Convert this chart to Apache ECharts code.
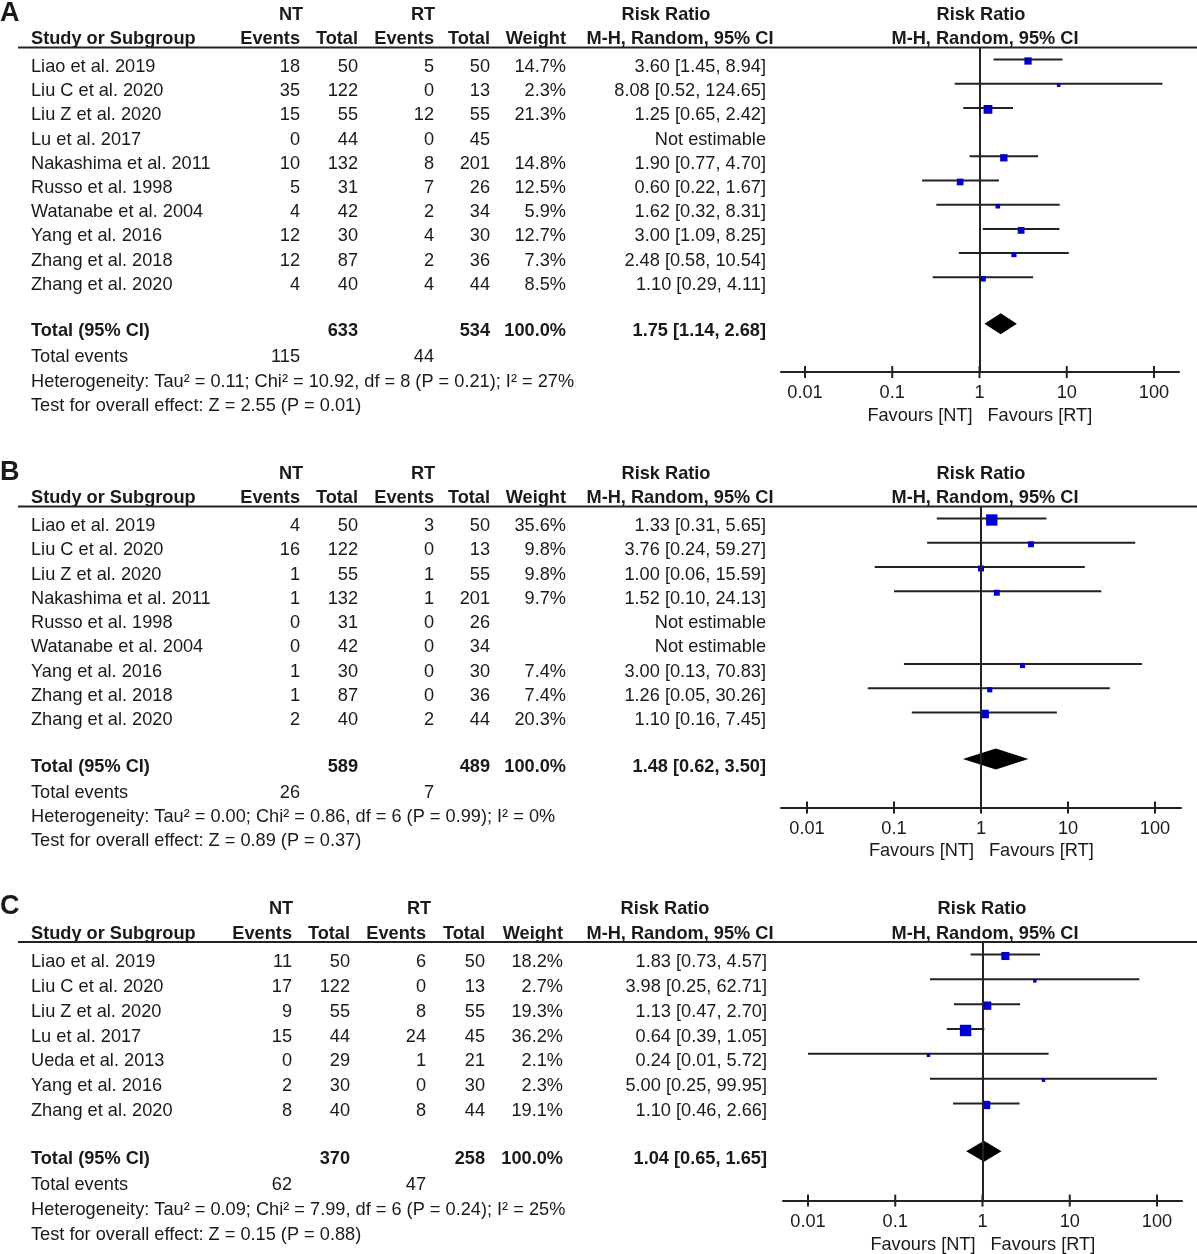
<!DOCTYPE html>
<html><head><meta charset="utf-8">
<script src="https://cdn.jsdelivr.net/npm/echarts@6/dist/echarts.min.js"></script>
<style>html,body{margin:0;padding:0;background:#fff}#c{width:1197px;height:1254px}</style>
</head><body><div id="c"></div>
<script>
// ================= DATA =================
// Panel A
const studiesA = ['Liao et al. 2019','Liu C et al. 2020','Liu Z et al. 2020','Lu et al. 2017','Nakashima et al. 2011','Russo et al. 1998','Watanabe et al. 2004','Yang et al. 2016','Zhang et al. 2018','Zhang et al. 2020'];
const ntEventsA = [18,35,15,0,10,5,4,12,12,4];
const ntTotalA  = [50,122,55,44,132,31,42,30,87,40];
const rtEventsA = [5,0,12,0,8,7,2,4,2,4];
const rtTotalA  = [50,13,55,45,201,26,34,30,36,44];
const weightA   = [14.7,2.3,21.3,null,14.8,12.5,5.9,12.7,7.3,8.5];
const rrA       = [3.60,8.08,1.25,null,1.90,0.60,1.62,3.00,2.48,1.10];
const lowA      = [1.45,0.52,0.65,null,0.77,0.22,0.32,1.09,0.58,0.29];
const highA     = [8.94,124.65,2.42,null,4.70,1.67,8.31,8.25,10.54,4.11];
const totalsA = [633,534];
const totalEventsA = [115,44];
const pooledA = [1.75,1.14,2.68];
const heterogeneityA = 'Heterogeneity: Tau² = 0.11; Chi² = 10.92, df = 8 (P = 0.21); I² = 27%';
const overallA = 'Test for overall effect: Z = 2.55 (P = 0.01)';

// Panel B
const studiesB = ['Liao et al. 2019','Liu C et al. 2020','Liu Z et al. 2020','Nakashima et al. 2011','Russo et al. 1998','Watanabe et al. 2004','Yang et al. 2016','Zhang et al. 2018','Zhang et al. 2020'];
const ntEventsB = [4,16,1,1,0,0,1,1,2];
const ntTotalB  = [50,122,55,132,31,42,30,87,40];
const rtEventsB = [3,0,1,1,0,0,0,0,2];
const rtTotalB  = [50,13,55,201,26,34,30,36,44];
const weightB   = [35.6,9.8,9.8,9.7,null,null,7.4,7.4,20.3];
const rrB       = [1.33,3.76,1.00,1.52,null,null,3.00,1.26,1.10];
const lowB      = [0.31,0.24,0.06,0.10,null,null,0.13,0.05,0.16];
const highB     = [5.65,59.27,15.59,24.13,null,null,70.83,30.26,7.45];
const totalsB = [589,489];
const totalEventsB = [26,7];
const pooledB = [1.48,0.62,3.50];
const heterogeneityB = 'Heterogeneity: Tau² = 0.00; Chi² = 0.86, df = 6 (P = 0.99); I² = 0%';
const overallB = 'Test for overall effect: Z = 0.89 (P = 0.37)';

// Panel C
const studiesC = ['Liao et al. 2019','Liu C et al. 2020','Liu Z et al. 2020','Lu et al. 2017','Ueda et al. 2013','Yang et al. 2016','Zhang et al. 2020'];
const ntEventsC = [11,17,9,15,0,2,8];
const ntTotalC  = [50,122,55,44,29,30,40];
const rtEventsC = [6,0,8,24,1,0,8];
const rtTotalC  = [50,13,55,45,21,30,44];
const weightC   = [18.2,2.7,19.3,36.2,2.1,2.3,19.1];
const rrC       = [1.83,3.98,1.13,0.64,0.24,5.00,1.10];
const lowC      = [0.73,0.25,0.47,0.39,0.01,0.25,0.46];
const highC     = [4.57,62.71,2.70,1.05,5.72,99.95,2.66];
const totalsC = [370,258];
const totalEventsC = [62,47];
const pooledC = [1.04,0.65,1.65];
const heterogeneityC = 'Heterogeneity: Tau² = 0.09; Chi² = 7.99, df = 6 (P = 0.24); I² = 25%';
const overallC = 'Test for overall effect: Z = 0.15 (P = 0.88)';

const panelLabels = ['A','B','C'];
const groupNames = ['NT','RT'];
const tickValues = [0.01, 0.1, 1, 10, 100];
const tickLabels = ['0.01','0.1','1','10','100'];
const favourLabels = ['Favours [NT]','Favours [RT]'];

// ================= LAYOUT / STYLE =================
const FONT = '"Liberation Sans", Arial, Helvetica, sans-serif';
const FS = 18.2;
const TXT = '#1a1a1a';
const LINE = '#222222';
const SQUARE = '#0000cc';
const TEXT_DY = 2;

const colsAB = {study:31, ntE:300, ntT:358, rtE:434, rtT:490, w:566, ci:766, ntH:291, rtH:423, rrH:666, mhH:680, prH:981, pmH:985};
const colsC  = {study:31, ntE:292, ntT:350, rtE:426, rtT:485, w:563, ci:767, ntH:281, rtH:419, rrH:665, mhH:680, prH:982, pmH:985};

const layouts = [
  {row0:65,  step:24.2,  cols:colsAB, lineStart:781, lineEnd:1179, t001:805, t100:1154},
  {row0:524, step:24.25, cols:colsAB, lineStart:781, lineEnd:1181, t001:807, t100:1155},
  {row0:960, step:24.83, cols:colsC,  lineStart:783, lineEnd:1182, t001:808, t100:1157}
];
const REL = {label:-2.22, head1:-2.14, head2:-1.14, rule:-0.72, total:0.92, events:2.0, het:3.0, test:4.0, axis:2.69, favours:4.4, top:-2.7, bottom:4.8};
const PLOT_SHIFT_PX = 5.5;

const panelData = [
  {studies:studiesA, ntE:ntEventsA, ntT:ntTotalA, rtE:rtEventsA, rtT:rtTotalA, w:weightA, rr:rrA, lo:lowA, hi:highA, totals:totalsA, tev:totalEventsA, pooled:pooledA, het:heterogeneityA, test:overallA},
  {studies:studiesB, ntE:ntEventsB, ntT:ntTotalB, rtE:rtEventsB, rtT:rtTotalB, w:weightB, rr:rrB, lo:lowB, hi:highB, totals:totalsB, tev:totalEventsB, pooled:pooledB, het:heterogeneityB, test:overallB},
  {studies:studiesC, ntE:ntEventsC, ntT:ntTotalC, rtE:rtEventsC, rtT:rtTotalC, w:weightC, rr:rrC, lo:lowC, hi:highC, totals:totalsC, tev:totalEventsC, pooled:pooledC, het:heterogeneityC, test:overallC}
];

function ciText(r, l, h) { return r.toFixed(2) + ' [' + l.toFixed(2) + ', ' + h.toFixed(2) + ']'; }
function sqSize(w) { return Math.max(3.5, 1.9 * Math.sqrt(w)); }

const grids = [], xAxes = [], yAxes = [], series = [];

panelData.forEach((d, p) => {
  const L = layouts[p], c = L.cols, n = d.studies.length;
  const tg = 2 * p, fg = 2 * p + 1;

  // ---- table grid (x in px units, y in row units) ----
  const tMin = REL.top, tMax = n + REL.bottom;
  grids.push({left:0, width:1197, top:L.row0 + tMin * L.step, height:(tMax - tMin) * L.step, outerBoundsMode:'none', containLabel:false});
  xAxes.push({gridIndex:tg, type:'value', min:0, max:1197, show:false});
  yAxes.push({gridIndex:tg, type:'value', inverse:true, min:tMin, max:tMax, show:false});

  // ---- forest grid (log x, y in row units) ----
  const decade = (L.t100 - L.t001) / 4;
  const fMin = REL.rule, fMax = n + REL.axis;
  grids.push({left:L.lineStart, width:L.lineEnd - L.lineStart, top:L.row0 + fMin * L.step, height:(fMax - fMin) * L.step, outerBoundsMode:'none', containLabel:false});
  xAxes.push({
    gridIndex:fg, type:'log', logBase:10,
    min:0.01 * Math.pow(10, -(L.t001 - L.lineStart) / decade),
    max:100 * Math.pow(10, (L.lineEnd - L.t100) / decade),
    splitNumber:5,
    axisLine:{show:true, onZero:false, lineStyle:{color:LINE, width:2}},
    axisTick:{show:false}, splitLine:{show:false},
    axisLabel:{show:true, showMinLabel:false, showMaxLabel:false, margin:12, color:TXT, fontSize:FS, fontFamily:FONT,
      formatter:(v) => { let best = '', bd = 1e9; tickValues.forEach((t, k) => { const dd = Math.abs(Math.log10(v) - Math.log10(t)); if (dd < bd) { bd = dd; best = tickLabels[k]; } }); return bd < 0.01 ? best : ''; }}
  });
  yAxes.push({gridIndex:fg, type:'value', inverse:true, min:fMin, max:fMax, show:false});

  // ---- table lines ----
  const lines = [];
  const B = 'bold';
  lines.push({row:REL.label, cells:[{t:panelLabels[p], x:0, a:'left', b:B, fs:27}]});
  lines.push({row:REL.head1, cells:[
    {t:groupNames[0], x:c.ntH, a:'center', b:B}, {t:groupNames[1], x:c.rtH, a:'center', b:B},
    {t:'Risk Ratio', x:c.rrH, a:'center', b:B}, {t:'Risk Ratio', x:c.prH, a:'center', b:B}]});
  lines.push({row:REL.head2, cells:[
    {t:'Study or Subgroup', x:c.study, a:'left', b:B},
    {t:'Events', x:c.ntE, a:'right', b:B}, {t:'Total', x:c.ntT, a:'right', b:B},
    {t:'Events', x:c.rtE, a:'right', b:B}, {t:'Total', x:c.rtT, a:'right', b:B},
    {t:'Weight', x:c.w, a:'right', b:B},
    {t:'M-H, Random, 95% CI', x:c.mhH, a:'center', b:B}, {t:'M-H, Random, 95% CI', x:c.pmH, a:'center', b:B}]});
  lines.push({row:REL.rule, rule:[18, 1197]});
  d.studies.forEach((s, i) => {
    const est = d.rr[i] != null;
    lines.push({row:i, cells:[
      {t:s, x:c.study, a:'left'},
      {t:String(d.ntE[i]), x:c.ntE, a:'right'}, {t:String(d.ntT[i]), x:c.ntT, a:'right'},
      {t:String(d.rtE[i]), x:c.rtE, a:'right'}, {t:String(d.rtT[i]), x:c.rtT, a:'right'},
      {t:est ? d.w[i].toFixed(1) + '%' : '', x:c.w, a:'right'},
      {t:est ? ciText(d.rr[i], d.lo[i], d.hi[i]) : 'Not estimable', x:c.ci, a:'right'}]});
  });
  lines.push({row:n + REL.total, cells:[
    {t:'Total (95% CI)', x:c.study, a:'left', b:B},
    {t:String(d.totals[0]), x:c.ntT, a:'right', b:B}, {t:String(d.totals[1]), x:c.rtT, a:'right', b:B},
    {t:'100.0%', x:c.w, a:'right', b:B},
    {t:ciText(d.pooled[0], d.pooled[1], d.pooled[2]), x:c.ci, a:'right', b:B}]});
  lines.push({row:n + REL.events, cells:[
    {t:'Total events', x:c.study, a:'left'},
    {t:String(d.tev[0]), x:c.ntE, a:'right'}, {t:String(d.tev[1]), x:c.rtE, a:'right'}]});
  lines.push({row:n + REL.het, cells:[{t:d.het, x:c.study, a:'left'}]});
  lines.push({row:n + REL.test, cells:[{t:d.test, x:c.study, a:'left'}]});
  const x1px = L.t001 + 2 * decade;
  lines.push({row:n + REL.favours, cells:[
    {t:favourLabels[0], x:x1px - 7, a:'right'}, {t:favourLabels[1], x:x1px + 8, a:'left'}]});

  series.push({
    type:'custom', xAxisIndex:tg, yAxisIndex:tg, silent:true, clip:false,
    data:lines.map(l => [0, l.row]),
    renderItem:(params, api) => {
      const l = lines[params.dataIndex];
      if (l.rule) {
        const a = api.coord([l.rule[0], l.row]), b = api.coord([l.rule[1], l.row]);
        return {type:'line', shape:{x1:a[0], y1:a[1], x2:b[0], y2:b[1]}, style:{stroke:LINE, lineWidth:2}};
      }
      return {type:'group', children:l.cells.map(cell => {
        const pt = api.coord([cell.x, l.row]);
        return {type:'text', x:pt[0], y:pt[1] + TEXT_DY, style:{text:cell.t, fill:TXT, fontSize:cell.fs || FS, fontWeight:cell.b || 'normal', fontFamily:FONT, align:cell.a, verticalAlign:'middle'}};
      })};
    }
  });

  // ---- forest marks ----
  const sh = PLOT_SHIFT_PX / L.step;
  const ciData = [], sqData = [];
  d.studies.forEach((s, i) => {
    if (d.rr[i] == null) return;
    ciData.push([d.lo[i], d.hi[i], i - sh]);
    sqData.push([d.rr[i], i - sh, d.w[i]]);
  });
  series.push({
    type:'custom', xAxisIndex:fg, yAxisIndex:fg, silent:true, clip:false,
    encode:{x:[0,1], y:2}, data:ciData,
    renderItem:(params, api) => {
      const a = api.coord([api.value(0), api.value(2)]), b = api.coord([api.value(1), api.value(2)]);
      return {type:'line', shape:{x1:a[0], y1:a[1], x2:b[0], y2:b[1]}, style:{stroke:LINE, lineWidth:2}};
    },
    markLine:{silent:true, symbol:['none','none'], label:{show:false}, lineStyle:{color:LINE, width:2, type:'solid'}, data:[{xAxis:1}], animation:false}
  });
  series.push({
    type:'scatter', xAxisIndex:fg, yAxisIndex:fg, silent:true, symbol:'rect',
    symbolSize:(v) => sqSize(v[2]), symbolOffset:[0, 1.5],
    itemStyle:{color:SQUARE, opacity:1}, data:sqData, z:3
  });
  series.push({
    type:'custom', xAxisIndex:fg, yAxisIndex:fg, silent:true, clip:false,
    encode:{x:[0,1,2], y:3}, data:[[d.pooled[0], d.pooled[1], d.pooled[2], n + REL.total - sh]],
    renderItem:(params, api) => {
      const y = api.value(3);
      const m = api.coord([api.value(0), y]), l = api.coord([api.value(1), y]), h = api.coord([api.value(2), y]);
      const hh = 10.5;
      return {type:'polygon', shape:{points:[[l[0], m[1]], [m[0], m[1] - hh], [h[0], m[1]], [m[0], m[1] + hh]]}, style:{fill:'#000'}};
    }
  });
  series.push({
    type:'custom', xAxisIndex:fg, yAxisIndex:fg, silent:true, clip:false,
    encode:{x:0, y:1}, data:tickValues.map(t => [t, fMax]),
    renderItem:(params, api) => {
      const pt = api.coord([api.value(0), api.value(1)]);
      return {type:'line', shape:{x1:pt[0], y1:pt[1] - 6, x2:pt[0], y2:pt[1] + 6}, style:{stroke:LINE, lineWidth:2}};
    }
  });
});

const chart = echarts.init(document.getElementById('c'), null, {renderer:'canvas'});
chart.setOption({animation:false, backgroundColor:'#fff', grid:grids, xAxis:xAxes, yAxis:yAxes, series:series});
</script></body></html>
